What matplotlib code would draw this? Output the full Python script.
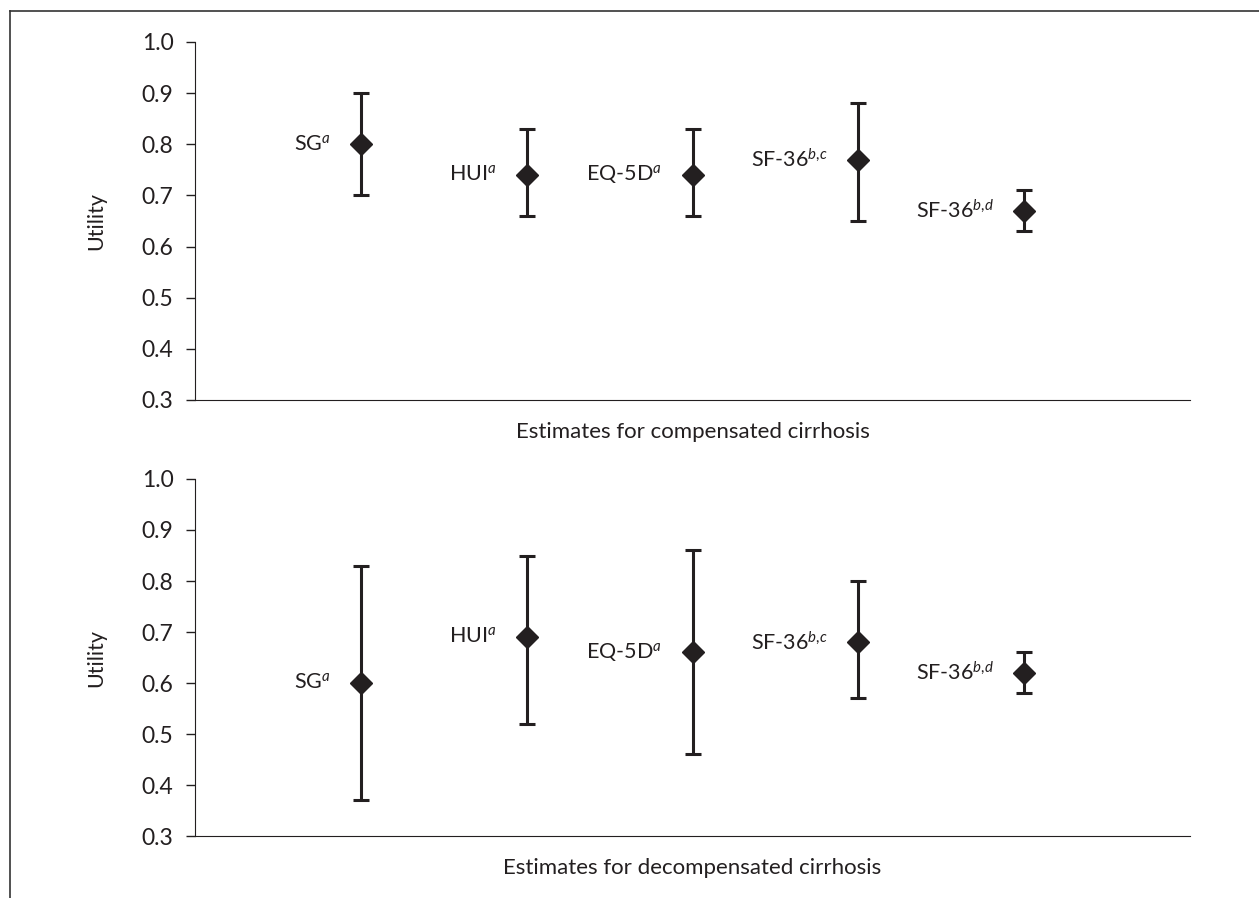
# utility estimates for compensated and decompensated cirrhosis
# diamonds with error bars, one panel per disease stage

import numpy as np
import matplotlib.pyplot as plt
from matplotlib.lines import Line2D

plt.rcParams['font.family'] = ['Lato', 'DejaVu Sans']
plt.rcParams['mathtext.fontset'] = 'custom'
plt.rcParams['mathtext.rm'] = 'Lato'
plt.rcParams['mathtext.it'] = 'Lato:italic'

# data
instruments = [r'SG$^{\mathit{a}}$', r'HUI$^{\mathit{a}}$', r'EQ-5D$^{\mathit{a}}$',
               r'SF-36$^{\mathit{b{,}c}}$', r'SF-36$^{\mathit{b{,}d}}$']
comp_mean = [0.80, 0.74, 0.74, 0.77, 0.67]
comp_low = [0.70, 0.66, 0.66, 0.65, 0.63]
comp_high = [0.90, 0.83, 0.83, 0.88, 0.71]
decomp_mean = [0.60, 0.69, 0.66, 0.68, 0.62]
decomp_low = [0.37, 0.52, 0.46, 0.57, 0.58]
decomp_high = [0.83, 0.85, 0.86, 0.80, 0.66]
y_ticks = [0.3, 0.4, 0.5, 0.6, 0.7, 0.8, 0.9, 1.0]

ink = '#231f20'
fig = plt.figure(figsize=(12.59, 8.98), dpi=100)

# frame round the figure (top and left only, the rest is cropped)
fig.add_artist(Line2D([9.5 / 1259, 1], [1 - 11 / 898, 1 - 11 / 898], color='#333333', lw=1.2))
fig.add_artist(Line2D([9.5 / 1259, 9.5 / 1259], [0, 1 - 11 / 898], color='#333333', lw=1.2))

panels = [
    ([0.1549, 0.5546, 0.7903, 0.3987], comp_mean, comp_low, comp_high,
     'Estimates for compensated cirrhosis'),
    ([0.1549, 0.0690, 0.7903, 0.3976], decomp_mean, decomp_low, decomp_high,
     'Estimates for decompensated cirrhosis'),
]

x = np.arange(1, len(instruments) + 1)

for rect, mean, low, high, title in panels:
    ax = fig.add_axes(rect)
    mean = np.array(mean)
    yerr = [mean - np.array(low), np.array(high) - mean]
    ax.errorbar(x, mean, yerr=yerr, fmt='D', color=ink, ms=11.5, mec=ink,
                elinewidth=2.2, capsize=6, capthick=2.2)
    for xi, yi, lab in zip(x, mean, instruments):
        ax.annotate(lab, (xi, yi), xytext=(-22, 0), textcoords='offset points',
                    ha='right', va='center', fontsize=15.5, color=ink)
    ax.set_xlim(0, 6)
    ax.set_ylim(0.3, 1.0)
    ax.set_yticks(y_ticks)
    ax.set_yticklabels([f'{t:.1f}' for t in y_ticks])
    ax.set_xticks([])
    ax.spines['top'].set_visible(False)
    ax.spines['right'].set_visible(False)
    ax.spines['left'].set_color(ink)
    ax.spines['bottom'].set_color(ink)
    ax.tick_params(axis='y', direction='out', length=6.5, width=1.0, pad=9,
                   labelsize=16.5, colors=ink)
    ax.set_ylabel('Utility', fontsize=15.5, color=ink)
    ax.yaxis.set_label_coords(-0.089, 0.5)
    ax.set_xlabel(title, fontsize=16, color=ink, labelpad=16)

plt.savefig('out.png', dpi=100)
